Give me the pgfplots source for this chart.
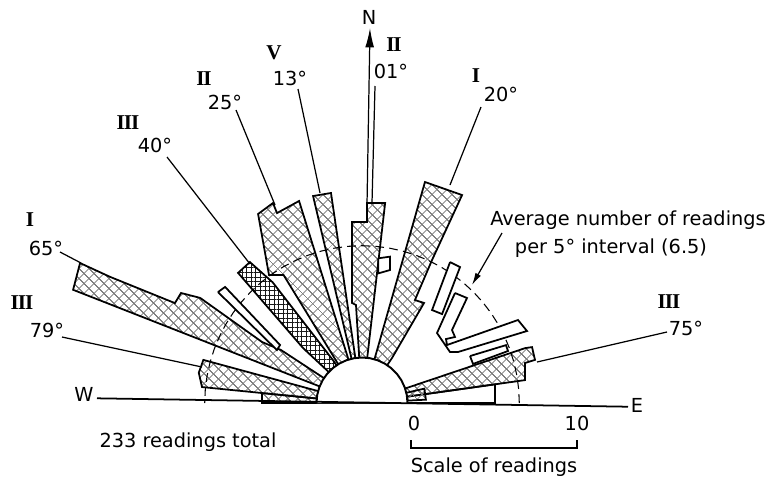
\documentclass[border=0pt]{standalone}
\usepackage{fontspec}
\setmainfont{DejaVu Sans}
\newfontfamily\romfont{Liberation Serif}
\usepackage{pgfplots}
\pgfplotsset{compat=1.18}
\usetikzlibrary{patterns.meta,arrows.meta}
\tikzset{
 hl/.style={draw=black, line width=1pt, line join=miter, pattern={Hatch[angle=45,distance=4pt,line width=0.45pt]}, pattern color=black!50},
 hd/.style={draw=black, line width=1pt, line join=miter, pattern={Hatch[angle=0,distance=2.6pt,line width=0.5pt]}, pattern color=black!90},
 op/.style={draw=black, line width=1pt, line join=miter, fill=white},
 ld/.style={black, line width=0.7pt},
 lab/.style={font=\fontsize{11}{11}\selectfont, inner sep=0pt},
 rom/.style={font=\fontsize{12}{12}\selectfont\romfont\bfseries, inner sep=0pt},
}
\newcommand{\RII}{I\kern-0.6pt I}
\newcommand{\RIII}{I\kern-0.6pt I\kern-0.6pt I}
\begin{document}
\begin{tikzpicture}
\begin{axis}[scale only axis, width=15.6cm, height=9.56cm,
  xmin=-362, xmax=418, ymin=-75, ymax=403, hide axis, clip=false, no markers]
\addplot[draw=none] coordinates {(-362,-75) (418,403)};
% open bin near E baseline
\addplot[op, data cs=polar] coordinates {(0,0) (0,133) (8.0,134.3) (0,0)};
% W side
\addplot[hl, data cs=polar] coordinates {(90,0) (180,100) (174.3,100.5) (90,0)};
\addplot[hl, data cs=polar] coordinates {(90,0) (174.3,160.8) (169.5,166) (164.8,164.4) (90,0)};
\addplot[hl, data cs=polar] coordinates {(90,0) (158.6,310.3) (153.6,314.8) (153.4,281.7) (151.9,212.1) (148.7,211.8) (147.0,193) (148.6,117) (146.8,96.8) (90,0)};
\addplot[hd, data cs=polar] coordinates {(90,0) (137,80.7) (133.6,179.7) (128.5,180.1) (126.5,150) (124,50) (90,0)};
\addplot[hl, data cs=polar] coordinates {(90,0) (121.5,150.3) (126.0,158.2) (118.8,215.7) (114.0,218.9) (114.1,208.1) (107.3,211.6) (90,0)};
\addplot[hl, data cs=polar] coordinates {(90,0) (103.3,212.7) (98.4,212.3) (90,0)};
\addplot[hl, data cs=polar] coordinates {(90,0) (93.5,98.2) (95.7,100.5) (93.2,181.3) (88.4,181.1) (88.6,200.1) (83.4,201.3) (90,0)};
% E side
\addplot[hl, data cs=polar] coordinates {(90,0) (74.1,229.8) (64.3,230.8) (63.9,159.2) (62.8,115.8) (58.2,117.7) (56.3,54.1) (90,0)};
\addplot[hl, data cs=polar] coordinates {(0,0) (18.6,172.0) (18.2,179) (14.0,178.3) (13.8,167.8) (8.0,164.6) (0,0)};
\addplot[hl, data cs=polar] coordinates {(0,0) (13,64) (3,64) (0,0)};
% average arc (6.5 readings)
\addplot[black, line width=0.6pt, dash pattern=on 5pt off 3pt, data cs=polar] coordinates {(0,157.3) (5,157.3) (10,157.3) (15,157.3) (20,157.3) (25,157.3) (30,157.3) (35,157.3) (40,157.3) (45,157.3) (50,157.3) (55,157.3) (60,157.3) (65,157.3) (70,157.3) (75,157.3) (80,157.3) (85,157.3) (90,157.3) (95,157.3) (100,157.3) (105,157.3) (110,157.3) (115,157.3) (120,157.3) (125,157.3) (130,157.3) (135,157.3) (140,157.3) (145,157.3) (150,157.3) (155,157.3) (160,157.3) (165,157.3) (170,157.3) (175,157.3) (180,157.3)};
% open bars
\addplot[op, data cs=polar] coordinates {(142.4,181.8) (139.7,179.5) (144.7,100.4) (148.1,100.2) (142.4,181.8)};
\addplot[op, data cs=polar] coordinates {(83.6,145.6) (79.2,149) (78.1,135.9) (82.8,130.7) (83.6,145.6)};
\addplot[op, data cs=polar] coordinates {(58.0,166.2) (54.2,167.6) (48.0,119.7) (53.0,116.4) (58.0,166.2)};
\addplot[op] coordinates {(93,110) (105,105) (90,73) (93,66) (84,64) (85,58) (156,83) (165,72) (96,51) (88,51) (75,70) (93,110)};
\addplot[op, data cs=polar] coordinates {(23.5,117.8) (21.9,155.2) (19.6,155) (19.4,117.7) (23.5,117.8)};
% inner semicircle
\addplot[draw=black, fill=white, line width=1.1pt, data cs=polar] coordinates {(0,45.5) (10,45.5) (20,45.5) (30,45.5) (40,45.5) (50,45.5) (60,45.5) (70,45.5) (80,45.5) (90,45.5) (100,45.5) (110,45.5) (120,45.5) (130,45.5) (140,45.5) (150,45.5) (160,45.5) (170,45.5) (180,45.5)};
% baseline
\addplot[black, line width=1pt] coordinates {(-265,4.7) (266,-3.7)};
% north arrow and leaders
\addplot[ld, -{Latex[length=11pt,width=5pt]}] coordinates {(5,198) (8,375)};
\addplot[ld] coordinates {(10,200) (13,317)};
\addplot[ld] coordinates {(-64,314) (-42,210)};
\addplot[ld] coordinates {(-126,293) (-87,198)};
\addplot[ld] coordinates {(-195,246) (-112,139)};
\addplot[ld] coordinates {(119,296) (88,218)};
\addplot[ld] coordinates {(-302,151) (-281,140)};
\addplot[ld] coordinates {(-300,66) (-160,36)};
\addplot[ld] coordinates {(305,71) (175,41)};
\addplot[ld, -{Latex[length=7pt,width=3.5pt]}] coordinates {(140,170) (110,118)};
% scale bar
\addplot[black, line width=0.8pt] coordinates {(49,-37) (49,-45) (215,-45) (215,-37)};
% labels
\node[lab] at (7,386) {N};
\node[rom] at (32,358) {\RII};
\node[lab] at (29,332) {01°};
\node[rom] at (-88,350) {V};
\node[lab] at (-72,325) {13°};
\node[rom] at (-158,324) {\RII};
\node[lab] at (-137,301) {25°};
\node[rom] at (-234,280) {\RIII};
\node[lab] at (-207,258) {40°};
\node[rom] at (114,327) {I};
\node[lab] at (139,309) {20°};
\node[rom] at (-332,183) {I};
\node[lab] at (-316,155) {65°};
\node[rom] at (-340,100) {\RIII};
\node[lab] at (-315,73) {79°};
\node[rom] at (307,101) {\RIII};
\node[lab] at (324,75) {75°};
\node[lab] at (266,183) {Average number of readings};
\node[lab] at (249,155) {per 5° interval (6.5)};
\node[lab] at (-174,-39) {233 readings total};
\node[lab] at (52,-20) {0};
\node[lab] at (215,-20) {10};
\node[lab] at (132,-64) {Scale of readings};
\node[lab] at (-278,9) {W};
\node[lab] at (275,-2) {E};
\end{axis}
\end{tikzpicture}
\end{document}
